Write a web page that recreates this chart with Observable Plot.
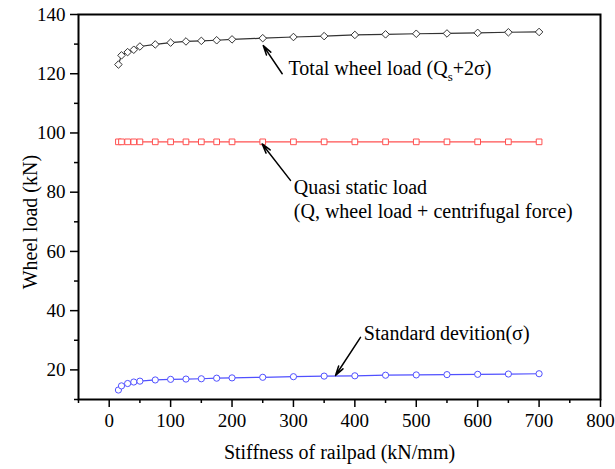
<!DOCTYPE html>
<html>
<head>
<meta charset="utf-8">
<script src="https://cdn.jsdelivr.net/npm/d3@7"></script>
<script src="https://cdn.jsdelivr.net/npm/@observablehq/plot@0.6"></script>
<style>
  html, body { margin: 0; padding: 0; background: white; }
  #chart { width: 615px; height: 469px; }
</style>
</head>
<body>
<div id="chart"></div>
<script>
// Stiffness of railpad (kN/mm)
const stiffness = [15, 20, 30, 40, 50, 75, 100, 125, 150, 175, 200, 250, 300, 350, 400, 450, 500, 550, 600, 650, 700];
// Total wheel load (Qs + 2σ), kN
const totalLoad = [123.1, 126.2, 127.3, 128.1, 129.2, 129.9, 130.5, 130.9, 131.1, 131.3, 131.6, 132.0, 132.4, 132.7, 133.1, 133.3, 133.5, 133.6, 133.8, 134.0, 134.1];
// Quasi static load, kN
const quasiStatic = [97.0, 97.0, 97.0, 97.0, 97.0, 97.0, 97.0, 97.0, 97.0, 97.0, 97.0, 97.0, 97.0, 97.0, 97.0, 97.0, 97.0, 97.0, 97.0, 97.0, 97.0];
// Standard deviation σ, kN
const stdDev = [13.2, 14.6, 15.4, 15.9, 16.2, 16.6, 16.8, 16.9, 17.0, 17.2, 17.3, 17.5, 17.7, 17.9, 18.0, 18.2, 18.3, 18.4, 18.5, 18.6, 18.7];

// Axis ticks
const xMajorTicks = [0, 100, 200, 300, 400, 500, 600, 700, 800];
const xMinorTicks = [-50, 50, 150, 250, 350, 450, 550, 650, 750];
const yMajorTicks = [20, 40, 60, 80, 100, 120, 140];
const yMinorTicks = [10, 30, 50, 70, 90, 110, 130];

// Annotations (data coordinates)
const noteTexts = ["Total wheel load (Q_s+2σ)", "Quasi static load", "(Q, wheel load + centrifugal force)", "Standard devition(σ)"];
const noteX = [292, 300.6, 300.6, 414.6];
const noteY = [121.6, 81.4, 73.3, 32.4];
const arrowX1 = [281.7, 295.2, 409.2];
const arrowY1 = [120.0, 84.0, 31.0];
const arrowX2 = [250.8, 249.1, 368.5];
const arrowY2 = [129.5, 96.3, 18.1];

// Axis titles
const xTitle = "Stiffness of railpad (kN/mm)";
const yTitle = "Wheel load (kN)";
const yTitleAt = [-127.2, 69.9]; // position of the y title in data units

const FONT = "Liberation Serif";

const rows = stiffness.map((s, i) => ({s, total: totalLoad[i], quasi: quasiStatic[i], sd: stdDev[i]}));
const notes = noteTexts.map((t, i) => ({t, x: noteX[i], y: noteY[i]}));
const arrows = arrowX1.map((x1, i) => ({x1, y1: arrowY1[i], x2: arrowX2[i], y2: arrowY2[i]}));

const series = [
  {key: "total", color: "#333333", symbol: "diamond2", r: 3.4},
  {key: "quasi", color: "#ff5050", symbol: "square", r: 3.2},
  {key: "sd", color: "#5050ff", symbol: "circle", r: 3.1}
];

const marks = [
  Plot.axisX(xMajorTicks, {tickSize: 8, text: null, strokeWidth: 1.5, label: null}),
  Plot.axisX(xMinorTicks, {tickSize: 4, text: null, strokeWidth: 1.5, label: null}),
  Plot.axisY(yMajorTicks, {tickSize: 8, text: null, strokeWidth: 1.5, label: null}),
  Plot.axisY(yMinorTicks, {tickSize: 4, text: null, strokeWidth: 1.5, label: null}),
  Plot.text(xMajorTicks, {x: d => d, frameAnchor: "bottom", dy: 21, text: d => String(d), fontSize: 19, fontFamily: FONT, fill: "black", lineAnchor: "middle"}),
  Plot.text(yMajorTicks, {y: d => d, frameAnchor: "left", dx: -13, text: d => String(d), fontSize: 19, fontFamily: FONT, fill: "black", textAnchor: "end", lineAnchor: "middle"}),
  Plot.frame({stroke: "black", strokeWidth: 2})
];
for (const sr of series) {
  marks.push(Plot.line(rows, {x: "s", y: sr.key, stroke: sr.color, strokeWidth: 1.2}));
  marks.push(Plot.dot(rows, {x: "s", y: sr.key, symbol: sr.symbol, r: sr.r, fill: "white", stroke: sr.color, strokeWidth: 1}));
}
marks.push(Plot.arrow(arrows, {x1: "x1", y1: "y1", x2: "x2", y2: "y2", stroke: "black", strokeWidth: 1.5, headLength: 10, headAngle: 30}));
marks.push(Plot.text(notes, {x: "x", y: "y", text: "t", textAnchor: "start", lineAnchor: "middle", fontSize: 20, fontFamily: FONT, fill: "black"}));
marks.push(Plot.text([xTitle], {frameAnchor: "bottom", dy: 52.6, text: d => d, fontSize: 20, fontFamily: FONT, fill: "black", lineAnchor: "middle"}));
marks.push(Plot.text([yTitle], {x: () => yTitleAt[0], y: () => yTitleAt[1], rotate: -90, text: d => d, fontSize: 20, fontFamily: FONT, fill: "black", lineAnchor: "middle", clip: false}));

const chart = Plot.plot({
  width: 615,
  height: 469,
  marginLeft: 78,
  marginRight: 15,
  marginTop: 14,
  marginBottom: 70,
  style: {background: "white", color: "black"},
  x: {domain: [-50, 800]},
  y: {domain: [10, 140]},
  marks
});

// Render subscript "s" in Qs
d3.select(chart).selectAll("text").each(function () {
  if (this.textContent === "Total wheel load (Q_s+2σ)") {
    const t = d3.select(this);
    t.text(null);
    t.append("tspan").text("Total wheel load (Q");
    t.append("tspan").attr("dy", 6).attr("font-size", 13).text("s");
    t.append("tspan").attr("dy", -6).text("+2σ)");
  }
});

document.getElementById("chart").appendChild(chart);
</script>
</body>
</html>
